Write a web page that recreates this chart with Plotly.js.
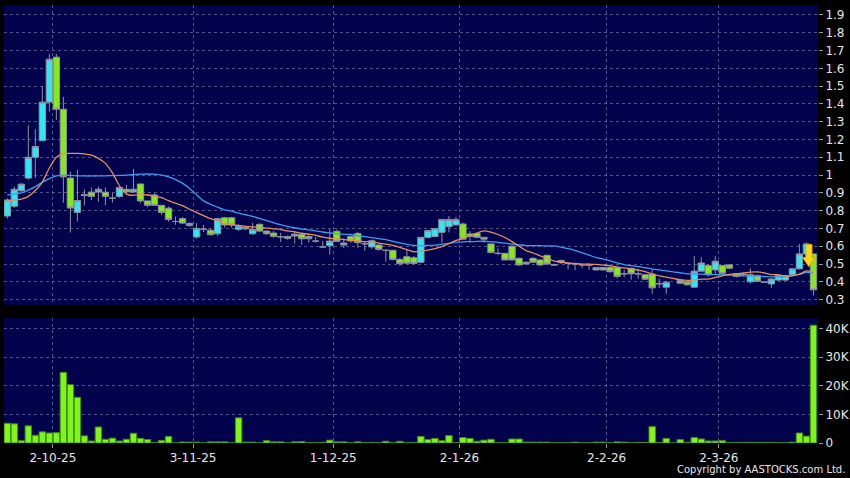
<!DOCTYPE html>
<html>
<head>
<meta charset="utf-8">
<script src="https://cdn.plot.ly/plotly-3.0.1.min.js"></script>
<style>
html,body{margin:0;padding:0;background:#000;}
#chart{width:850px;height:478px;}
</style>
</head>
<body>
<div id="chart"></div>
<script>
// ---- data ----
const opens  = [0.77,0.825,0.912,0.983,1.10,1.193,1.41,1.663,1.37,0.983,
  0.79,0.89,0.904,0.905,0.904,0.87,0.88,0.92,0.905,0.95,
  0.855,0.888,0.83,0.814,0.739,0.755,0.716,0.652,0.696,0.69,
  0.67,0.76,0.76,0.695,0.705,0.67,0.723,0.685,0.674,0.653,
  0.644,0.657,0.667,0.642,0.629,0.596,0.603,0.684,0.607,0.655,
  0.672,0.614,0.596,0.607,0.577,0.577,0.526,0.541,0.535,0.51,
  0.65,0.655,0.678,0.71,0.72,0.725,0.669,0.672,0.65,0.613,
  0.56,0.56,0.60,0.532,0.51,0.532,0.523,0.549,0.495,0.52,
  0.504,0.50,0.495,0.494,0.467,0.48,0.48,0.48,0.445,0.476,
  0.445,0.44,0.443,0.389,0.37,null,0.407,0.40,0.37,0.46,
  0.491,0.467,0.491,0.495,0.445,0.441,0.40,0.435,0.398,0.388,
  0.41,0.41,0.441,0.473,0.557,0.557];
const highs  = [0.87,0.935,0.955,1.28,1.258,1.50,1.68,1.681,1.44,1.02,
  1.03,0.92,0.93,0.936,0.93,0.90,0.936,0.945,1.035,0.95,
  0.855,0.898,0.83,0.823,0.767,0.765,0.735,0.73,0.72,0.70,
  0.76,0.765,0.765,0.723,0.712,0.732,0.73,0.69,0.685,0.675,
  0.66,0.685,0.676,0.668,0.652,0.629,0.695,0.693,0.646,0.66,
  0.68,0.629,0.638,0.612,0.582,0.58,0.535,0.582,0.545,0.65,
  0.69,0.70,0.751,0.77,0.765,0.733,0.685,0.676,0.652,0.615,
  0.588,0.562,0.605,0.536,0.515,0.54,0.525,0.552,0.502,0.525,
  0.508,0.505,0.50,0.497,0.48,0.482,0.49,0.49,0.468,0.48,
  0.474,0.44,0.468,0.418,0.40,null,0.41,0.405,0.545,0.538,
  0.50,0.544,0.495,0.50,0.45,0.455,0.476,0.44,0.402,0.42,
  0.44,0.44,0.476,0.613,0.622,0.557];
const lows   = [0.755,0.815,0.905,0.973,0.983,1.19,1.357,1.31,0.844,0.677,
  0.739,0.83,0.86,0.85,0.83,0.846,0.872,0.898,0.898,0.842,
  0.82,0.83,0.777,0.739,0.72,0.725,0.71,0.642,0.68,0.66,
  0.657,0.705,0.705,0.686,0.69,0.665,0.68,0.665,0.648,0.625,
  0.636,0.615,0.607,0.62,0.62,0.592,0.554,0.625,0.59,0.62,
  0.592,0.573,0.585,0.575,0.513,0.52,0.49,0.498,0.498,0.505,
  0.645,0.65,0.62,0.678,0.715,0.639,0.62,0.645,0.62,0.564,
  0.55,0.523,0.52,0.49,0.495,0.508,0.488,0.495,0.49,0.50,
  0.47,0.465,0.476,0.468,0.465,0.462,0.45,0.42,0.426,0.412,
  0.418,0.41,0.333,0.366,0.333,null,0.39,0.38,0.365,0.455,
  0.43,0.445,0.44,0.47,0.425,0.43,0.39,0.40,0.395,0.366,
  0.405,0.405,0.435,0.47,0.55,0.323];
const closes = [0.86,0.92,0.949,1.10,1.161,1.41,1.651,1.37,0.99,0.815,
  0.857,0.885,0.88,0.92,0.88,0.87,0.93,0.905,0.92,0.855,
  0.83,0.83,0.79,0.75,0.739,0.73,0.728,0.70,0.696,0.665,
  0.755,0.72,0.72,0.712,0.698,0.695,0.685,0.67,0.655,0.653,
  0.655,0.668,0.642,0.655,0.629,0.596,0.629,0.627,0.618,0.63,
  0.62,0.614,0.631,0.582,0.577,0.526,0.502,0.505,0.503,0.65,
  0.688,0.70,0.751,0.751,0.751,0.64,0.655,0.65,0.64,0.564,
  0.56,0.523,0.523,0.495,0.50,0.51,0.495,0.50,0.495,0.508,
  0.504,0.50,0.495,0.494,0.48,0.467,0.457,0.43,0.445,0.445,
  0.445,0.415,0.366,0.389,0.398,null,0.392,0.383,0.46,0.506,
  0.44,0.516,0.448,0.476,0.43,0.441,0.44,0.403,0.398,0.416,
  0.435,0.435,0.473,0.557,0.613,0.355];
const volumes = [6900,6700,800,6000,2700,3900,3500,3600,24700,20400,
  16000,2500,700,5600,1300,1700,700,1300,3400,1600,
  1200,100,900,2300,50,350,300,300,50,400,
  400,400,50,8800,300,300,50,800,400,400,
  50,400,500,100,100,200,1000,400,400,100,
  400,100,200,100,600,100,600,100,200,2300,
  1200,1600,800,2600,100,1900,1600,600,1000,1300,
  100,100,1400,1400,300,300,300,300,100,100,
  100,300,100,100,300,300,100,400,300,100,
  200,200,5700,200,1600,0,1200,200,1900,1400,
  700,700,800,100,100,200,200,200,200,200,
  100,100,300,3500,2400,41200];
const ma10 = [0.857,0.859,0.865,0.88,0.913,0.96,1.04,1.10,1.12,1.122,
  1.122,1.119,1.112,1.094,1.066,1.012,0.94,0.893,0.886,0.89,
  0.888,0.882,0.873,0.856,0.842,0.828,0.808,0.79,0.772,0.755,
  0.742,0.727,0.72,0.717,0.712,0.709,0.705,0.702,0.698,0.694,
  0.686,0.681,0.673,0.668,0.661,0.651,0.645,0.641,0.637,0.635,
  0.631,0.626,0.625,0.618,0.612,0.605,0.593,0.581,0.569,0.571,
  0.578,0.586,0.598,0.615,0.633,0.644,0.659,0.674,0.686,0.679,
  0.666,0.649,0.626,0.60,0.575,0.562,0.546,0.531,0.517,0.511,
  0.505,0.503,0.50,0.50,0.498,0.494,0.49,0.483,0.478,0.472,
  0.466,0.457,0.444,0.434,0.426,0.419,0.412,0.408,0.409,0.415,
  0.415,0.425,0.433,0.442,0.445,0.449,0.454,0.456,0.45,0.441,
  0.44,0.432,0.435,0.443,0.461,0.453];
const ma20 = [0.889,0.893,0.90,0.915,0.935,0.96,0.98,0.995,1.0,0.998,
  0.996,0.995,0.995,0.995,0.996,0.997,0.998,1.0,1.003,1.005,
  1.006,1.005,1.0,0.99,0.975,0.955,0.925,0.89,0.855,0.835,
  0.82,0.805,0.797,0.786,0.777,0.768,0.756,0.744,0.731,0.721,
  0.712,0.704,0.697,0.692,0.687,0.68,0.675,0.671,0.667,0.666,
  0.659,0.654,0.649,0.643,0.637,0.628,0.619,0.611,0.605,0.603,
  0.605,0.606,0.612,0.616,0.623,0.625,0.626,0.627,0.628,0.625,
  0.622,0.617,0.612,0.608,0.604,0.603,0.603,0.602,0.602,0.595,
  0.586,0.576,0.563,0.55,0.537,0.528,0.518,0.507,0.497,0.491,
  0.486,0.48,0.472,0.467,0.462,0.456,0.451,0.445,0.444,0.443,
  0.44,0.441,0.439,0.438,0.435,0.434,0.433,0.432,0.429,0.428,
  0.428,0.429,0.434,0.442,0.453,0.451];
// date labels and the candle on which each date falls
const tickIndex  = [7, 27, 47, 65, 86, 102];
const tickLabels = ['2-10-25','3-11-25','1-12-25','2-1-26','2-2-26','2-3-26'];
const priceTicks = [0.3,0.4,0.5,0.6,0.7,0.8,0.9,1,1.1,1.2,1.3,1.4,1.5,1.6,1.7,1.8,1.9];
const volTicks   = [0,10000,20000,30000,40000];
const volLabels  = ['0','10K','20K','30K','40K'];

// ---- build ----
const xs = closes.map((_, i) => i);
const gridTickVals = tickIndex.map(i => i - 0.5);
const last = xs.length - 1;

const UP = '#2FE6F4', DOWN = '#84EA1A', WICK = '#9090a0';
const GRID = 'rgba(150,150,190,0.55)';
const TXT = '#e6e6e6';

const traces = [
  {type:'candlestick', x:xs, open:opens, high:highs, low:lows, close:closes,
   xaxis:'x', yaxis:'y',
   increasing:{line:{color:WICK, width:1}, fillcolor:UP},
   decreasing:{line:{color:WICK, width:1}, fillcolor:DOWN},
   whiskerwidth:0, hoverinfo:'skip', showlegend:false},
  {type:'scatter', mode:'lines', x:xs, y:ma20, xaxis:'x', yaxis:'y',
   line:{color:'#3d9cec', width:1.3, shape:'spline', smoothing:0.6}, hoverinfo:'skip', showlegend:false},
  {type:'scatter', mode:'lines', x:xs, y:ma10, xaxis:'x', yaxis:'y',
   line:{color:'#e39060', width:1.3, shape:'spline', smoothing:0.6}, hoverinfo:'skip', showlegend:false},
  {type:'bar', x:xs, y:volumes, xaxis:'x2', yaxis:'y2',
   marker:{color:'#7FF51A', line:{color:'#3f8f10', width:1}},
   hoverinfo:'skip', showlegend:false}
];

// down-arrow marker placed over the final candle
const ax = xs[last] - 0.65;
const aTop = highs[last-1] - 0.012, aMid = opens[last] - 0.02, aBot = opens[last] - 0.072;
const arrowPath = `M ${ax-0.45},${aTop} L ${ax+0.45},${aTop} L ${ax+0.45},${aMid} L ${ax+0.9},${aMid} L ${ax},${aBot} L ${ax-0.9},${aMid} L ${ax-0.45},${aMid} Z`;

const xCommon = {
  range:[-0.47, 115.65], tickvals:gridTickVals, ticktext:tickLabels,
  showgrid:true, gridcolor:GRID, griddash:'3px,3px', gridwidth:1,
  zeroline:false, showline:false, fixedrange:true,
  rangeslider:{visible:false}
};

const layout = {
  width:850, height:478,
  margin:{l:4, r:32, t:5, b:35},
  paper_bgcolor:'#000000', plot_bgcolor:'#02024c',
  font:{family:'DejaVu Sans', size:12, color:TXT},
  boxgap:0.1, boxgroupgap:0, bargap:0.08,
  xaxis:Object.assign({}, xCommon, {anchor:'y', showticklabels:false, ticks:''}),
  xaxis2:Object.assign({}, xCommon, {anchor:'y2', showticklabels:true,
    ticks:'outside', ticklen:4, tickcolor:'#999', tickfont:{size:12, color:TXT}}),
  yaxis:{domain:[0.3155,1], range:[0.2708,1.956], side:'right', anchor:'x',
    tickvals:priceTicks, ticktext:priceTicks.map(String),
    showgrid:true, gridcolor:GRID, griddash:'3px,3px', gridwidth:1,
    ticks:'outside', ticklen:4, tickcolor:'#999', zeroline:false, fixedrange:true,
    tickfont:{size:12, color:TXT}},
  yaxis2:{domain:[0,0.2852], range:[0,43700], side:'right', anchor:'x2',
    tickvals:volTicks, ticktext:volLabels,
    showgrid:true, gridcolor:GRID, griddash:'3px,3px', gridwidth:1,
    ticks:'outside', ticklen:4, tickcolor:'#999', zeroline:false, fixedrange:true,
    tickfont:{size:12, color:TXT}},
  shapes:[{type:'path', xref:'x', yref:'y', path:arrowPath,
    fillcolor:'#FFD41E', line:{color:'#D9A200', width:1}, layer:'above'}],
  annotations:[{xref:'paper', yref:'paper', x:1.036, y:-0.061, xanchor:'right', yanchor:'middle',
    text:'Copyright by AASTOCKS.com Ltd.', showarrow:false, font:{size:10, color:TXT}}]
};

Plotly.newPlot('chart', traces, layout, {displayModeBar:false, staticPlot:true});
</script>
</body>
</html>
